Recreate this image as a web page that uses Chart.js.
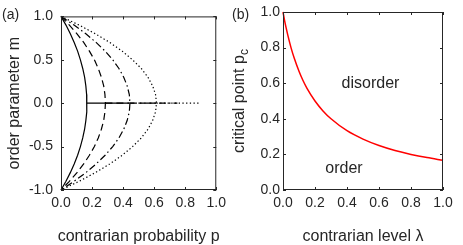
<!DOCTYPE html>
<html>
<head>
<meta charset="utf-8">
<script src="https://cdn.jsdelivr.net/npm/chart.js@4"></script>
<style>
  html, body { margin: 0; padding: 0; background: #fff; overflow: hidden; }
  #wrap { position: relative; width: 463px; height: 245px; }
  canvas { position: absolute; top: 0; }
  #chart-a { left: 0; }
  #chart-b { left: 231px; }
</style>
</head>
<body>
<div id="wrap">
  <canvas id="chart-a" width="231" height="245"></canvas>
  <canvas id="chart-b" width="232" height="245"></canvas>
</div>
<script>
// panel (a): order parameter m against contrarian probability p, one curve per contrarian level
const mLevels = [1, 0.9, 0.8, 0.7, 0.6, 0.5, 0.4, 0.3, 0.2, 0.1, 0, -0.1, -0.2, -0.3, -0.4, -0.5, -0.6, -0.7, -0.8, -0.9, -1];
const pSolid   = [0, 0.032, 0.060, 0.085, 0.107, 0.125, 0.140, 0.152, 0.160, 0.165, 0.167, 0.165, 0.160, 0.152, 0.140, 0.125, 0.107, 0.085, 0.060, 0.032, 0];
const pDashed  = [0, 0.054, 0.103, 0.146, 0.183, 0.215, 0.240, 0.260, 0.275, 0.283, 0.286, 0.283, 0.275, 0.260, 0.240, 0.215, 0.183, 0.146, 0.103, 0.054, 0];
const pDashDot = [0, 0.084, 0.160, 0.226, 0.284, 0.333, 0.373, 0.404, 0.426, 0.440, 0.444, 0.440, 0.426, 0.404, 0.373, 0.333, 0.284, 0.226, 0.160, 0.084, 0];
const pDotted  = [0, 0.117, 0.221, 0.314, 0.394, 0.461, 0.517, 0.560, 0.590, 0.609, 0.615, 0.609, 0.590, 0.560, 0.517, 0.461, 0.394, 0.314, 0.221, 0.117, 0];
// disordered branch m = 0, from the critical point to the end of each run
const zeroStart = [0.167, 0.286, 0.444, 0.615];
const zeroEnd   = [0.44, 0.62, 0.75, 0.89];
const axisTicksA = { x: [0, 0.2, 0.4, 0.6, 0.8, 1], y: [-1, -0.5, 0, 0.5, 1] };

// panel (b): critical point p_c against contrarian level lambda
const lambdaVals = [0, 0.01, 0.02, 0.03, 0.05, 0.07, 0.1, 0.125, 0.15, 0.2, 0.25, 0.3, 0.4, 0.5, 0.6, 0.7, 0.8, 0.9, 1.0];
const pcVals     = [1, 0.952, 0.909, 0.870, 0.800, 0.741, 0.667, 0.615, 0.571, 0.500, 0.444, 0.400, 0.333, 0.286, 0.250, 0.222, 0.200, 0.182, 0.167];
const axisTicksB = { x: [0, 0.2, 0.4, 0.6, 0.8, 1], y: [0, 0.2, 0.4, 0.6, 0.8, 1] };

const FONT = "'Liberation Sans', Arial, Helvetica, sans-serif";
const INK = '#262626';

const styles = [
  { name: 'solid', p: pSolid, dash: [] },
  { name: 'dashed', p: pDashed, dash: [7, 4] },
  { name: 'dashdot', p: pDashDot, dash: [7, 3, 1.5, 3] },
  { name: 'dotted', p: pDotted, dash: [1.3, 2.4] },
];

function curveSets() {
  const sets = [];
  styles.slice().reverse().forEach(s => {
    const i = styles.indexOf(s);
    const base = { showLine: true, borderColor: '#000', borderWidth: 1.2, borderDash: s.dash, pointRadius: 0, fill: false, clip: false };
    sets.push({ ...base, label: s.name, data: s.p.map((p, k) => ({ x: p, y: mLevels[k] })) });
    sets.push({ ...base, label: s.name + '-zero', data: [{ x: zeroStart[i], y: 0 }, { x: zeroEnd[i], y: 0 }] });
  });
  return sets;
}

// box with inward tick marks plus all the text, MATLAB style
const frame = {
  id: 'frame',
  afterDraw(chart, args, o) {
    const { ctx, chartArea: a, scales } = chart;
    ctx.save();
    ctx.strokeStyle = INK;
    ctx.lineWidth = 1;
    ctx.setLineDash([]);
    ctx.strokeRect(a.left + 0.5, a.top + 0.5, a.right - a.left - 1, a.bottom - a.top - 1);
    const tl = 3;
    ctx.beginPath();
    o.ticks.x.forEach(v => {
      const x = Math.round(scales.x.getPixelForValue(v)) + 0.5;
      ctx.moveTo(x, a.bottom); ctx.lineTo(x, a.bottom - tl);
      ctx.moveTo(x, a.top); ctx.lineTo(x, a.top + tl);
    });
    o.ticks.y.forEach(v => {
      const y = Math.round(scales.y.getPixelForValue(v)) + 0.5;
      ctx.moveTo(a.left, y); ctx.lineTo(a.left + tl, y);
      ctx.moveTo(a.right, y); ctx.lineTo(a.right - tl, y);
    });
    ctx.stroke();

    ctx.fillStyle = INK;
    ctx.font = `14px ${FONT}`;
    ctx.textAlign = 'left';
    ctx.textBaseline = 'middle';
    ctx.fillText(o.panel, o.panelX, 15);

    ctx.font = `16px ${FONT}`;
    ctx.textAlign = 'center';
    ctx.textBaseline = 'alphabetic';
    ctx.fillText(o.xTitle, (a.left + a.right) / 2, 241);

    // rotated y title, with optional subscript
    ctx.save();
    ctx.translate(o.yTitleX, (a.top + a.bottom) / 2);
    ctx.rotate(-Math.PI / 2);
    ctx.textBaseline = 'middle';
    ctx.textAlign = 'left';
    const w1 = ctx.measureText(o.yTitle).width;
    ctx.font = `12px ${FONT}`;
    const w2 = o.ySub ? ctx.measureText(o.ySub).width : 0;
    const x0 = -(w1 + w2) / 2;
    ctx.font = `16px ${FONT}`;
    ctx.fillText(o.yTitle, x0, 0);
    if (o.ySub) {
      ctx.font = `12px ${FONT}`;
      ctx.fillText(o.ySub, x0 + w1, 5);
    }
    ctx.restore();

    ctx.font = `16px ${FONT}`;
    ctx.textAlign = 'center';
    (o.notes || []).forEach(n => ctx.fillText(n.text, n.x, n.y));
    ctx.restore();
  }
};

function axis(min, max, step, width, pad, isX) {
  return {
    type: 'linear', min, max,
    grid: { display: false, drawTicks: false },
    border: { display: false },
    ticks: {
      stepSize: step, padding: pad, color: INK, maxRotation: 0,
      font: { family: FONT, size: 14 },
      callback: v => v.toFixed(1)
    },
    afterFit: s => { if (isX) s.height = 55; else s.width = width; }
  };
}

Chart.defaults.animation = false;

new Chart(document.getElementById('chart-a'), {
  type: 'scatter',
  data: { datasets: curveSets() },
  options: {
    responsive: false,
    devicePixelRatio: 1,
    layout: { padding: { left: 0, top: 12, right: 10, bottom: 0 } },
    scales: {
      x: axis(0, 1, 0.2, 0, 5, true),
      y: axis(-1, 1, 0.5, 61, 8, false)
    },
    plugins: {
      legend: { display: false },
      tooltip: { enabled: false },
      frame: {
        panel: '(a)', panelX: 2, ticks: axisTicksA,
        xTitle: 'contrarian probability p',
        yTitle: 'order parameter m', yTitleX: 15
      }
    }
  },
  plugins: [frame]
});

new Chart(document.getElementById('chart-b'), {
  type: 'scatter',
  data: {
    datasets: [{
      label: 'critical point',
      data: lambdaVals.map((l, i) => ({ x: l, y: pcVals[i] })),
      showLine: true, borderColor: '#ff0000', borderWidth: 1.5,
      pointRadius: 0, cubicInterpolationMode: 'monotone', clip: false
    }]
  },
  options: {
    responsive: false,
    devicePixelRatio: 1,
    layout: { padding: { left: 0, top: 12, right: 20, bottom: 0 } },
    scales: {
      x: axis(0, 1, 0.2, 0, 5, true),
      y: axis(0, 1, 0.2, 52, 3, false)
    },
    plugins: {
      legend: { display: false },
      tooltip: { enabled: false },
      frame: {
        panel: '(b)', panelX: 1, ticks: axisTicksB,
        xTitle: 'contrarian level \u03bb',
        yTitle: 'critical point p', ySub: 'c', yTitleX: 9,
        notes: [{ text: 'disorder', x: 139.5, y: 88 }, { text: 'order', x: 113, y: 173 }]
      }
    }
  },
  plugins: [frame]
});
</script>
</body>
</html>
